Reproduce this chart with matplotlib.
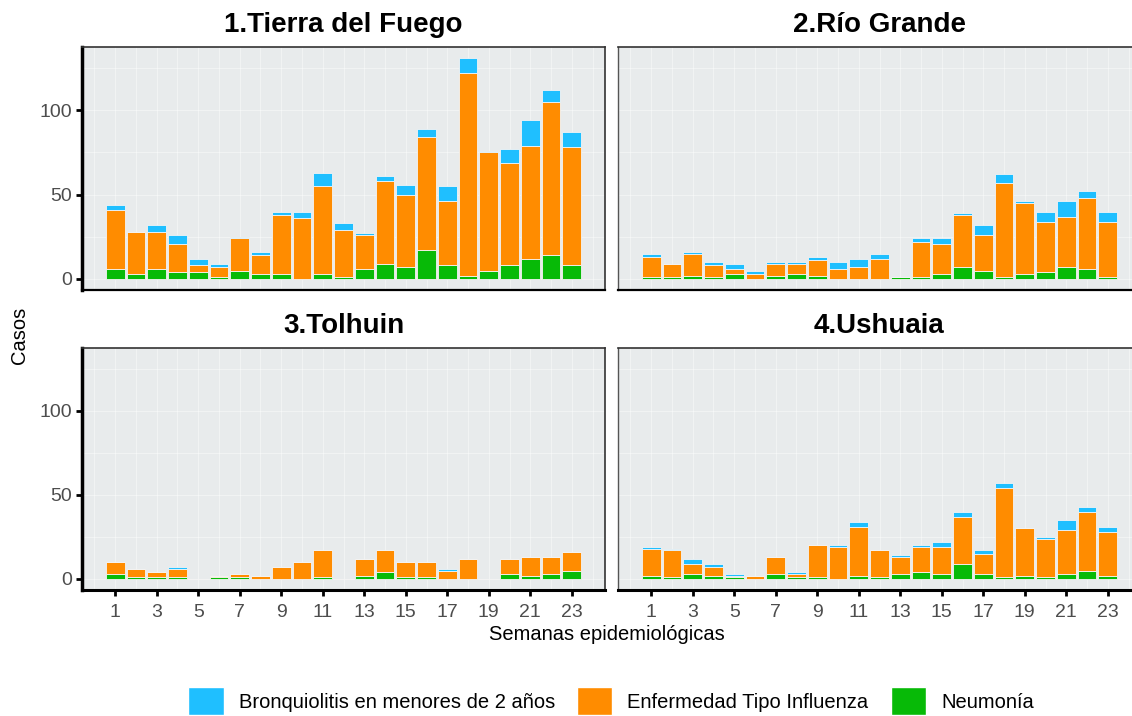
import matplotlib
matplotlib.use("Agg")
import matplotlib.pyplot as plt
from matplotlib.patches import Patch
import numpy as np

plt.rcParams['font.family'] = ['Liberation Sans', 'DejaVu Sans']

# Semanas epidemiológicas 1 a 23
semanas = list(range(1, 24))

titulos = ["1.Tierra del Fuego", "2.Río Grande", "3.Tolhuin", "4.Ushuaia"]

# Neumonía / Enfermedad Tipo Influenza / Bronquiolitis, por semana
neumonia_tdf = [6, 3, 6, 4, 4, 1, 5, 3, 3, 0, 3, 1, 6, 9, 7, 17, 8, 2, 5, 8, 12, 14, 8]
eti_tdf = [35, 25, 22, 17, 4, 6, 19, 11, 35, 36, 52, 28, 20, 49, 43, 67, 38, 120, 70, 61, 67, 91, 70]
bronq_tdf = [3, 0, 4, 5, 4, 2, 1, 2, 2, 4, 8, 4, 1, 3, 6, 5, 9, 9, 1, 8, 15, 7, 9]

neumonia_rg = [1, 1, 2, 1, 3, 0, 2, 3, 2, 0, 0, 0, 1, 1, 3, 7, 5, 1, 3, 4, 7, 6, 1]
eti_rg = [12, 8, 13, 7, 3, 3, 7, 6, 9, 6, 7, 12, 0, 21, 18, 31, 21, 56, 42, 30, 30, 42, 33]
bronq_rg = [2, 0, 1, 2, 3, 2, 1, 1, 2, 4, 5, 3, 0, 2, 3, 1, 6, 5, 1, 6, 9, 4, 6]

neumonia_tol = [3, 1, 1, 1, 0, 1, 1, 0, 0, 0, 1, 0, 2, 4, 1, 1, 0, 0, 0, 3, 2, 3, 5]
eti_tol = [7, 5, 3, 5, 0, 1, 2, 2, 7, 10, 16, 0, 10, 13, 9, 9, 5, 12, 0, 9, 11, 10, 11]
bronq_tol = [0, 0, 0, 1, 0, 0, 0, 0, 0, 0, 0, 0, 0, 0, 0, 0, 1, 0, 0, 0, 0, 0, 0]

neumonia_ush = [2, 1, 3, 2, 1, 0, 3, 1, 1, 0, 2, 1, 3, 4, 3, 9, 3, 1, 2, 1, 3, 5, 2]
eti_ush = [16, 16, 6, 5, 1, 2, 10, 2, 19, 19, 29, 16, 10, 15, 16, 28, 12, 53, 28, 23, 26, 35, 26]
bronq_ush = [1, 1, 3, 2, 1, 0, 0, 1, 0, 1, 3, 0, 1, 1, 3, 3, 2, 3, 0, 1, 6, 3, 3]

datos = [
    (neumonia_tdf, eti_tdf, bronq_tdf),
    (neumonia_rg, eti_rg, bronq_rg),
    (neumonia_tol, eti_tol, bronq_tol),
    (neumonia_ush, eti_ush, bronq_ush),
]

c_bronq = "#1FBFFF"
c_eti = "#FF8C00"
c_neum = "#07BA07"
fondo = "#E8EBEC"

W, H = 1132, 716
fig = plt.figure(figsize=(W / 100, H / 100), dpi=100)


def rect(l, t, r, b):
    return [l / W, 1 - b / H, (r - l) / W, (b - t) / H]


paneles = [(82, 47, 605, 290), (618, 47, 1141, 290),
           (82, 347.5, 605, 590), (618, 347.5, 1141, 590)]
titulo_y = [25, 25, 326, 326]

x = np.array(semanas)
for i, (pos, tit, (neu, eti, bro)) in enumerate(zip(paneles, titulos, datos)):
    ax = fig.add_axes(rect(*pos))
    ax.set_facecolor(fondo)
    neu = np.array(neu)
    eti = np.array(eti)
    bro = np.array(bro)
    kw = dict(width=0.9, edgecolor="#F4F4F4", linewidth=0.6, zorder=3)
    ax.bar(x, neu, color=c_neum, **kw)
    ax.bar(x, eti, bottom=neu, color=c_eti, **kw)
    ax.bar(x, bro, bottom=neu + eti, color=c_bronq, **kw)

    ax.set_xlim(-0.6, 24.6)
    ax.set_ylim(-6.55, 137.55)
    for v in range(0, 25):
        ax.axvline(v, color="white", lw=0.6, alpha=0.5, zorder=1)
    for v in range(0, 150, 25):
        ax.axhline(v, color="white", lw=0.6, alpha=0.5, zorder=1)

    izquierda = i in (0, 2)
    abajo = i in (2, 3)
    for s in ("top", "right"):
        ax.spines[s].set_color("#333333")
        ax.spines[s].set_linewidth(1.2)
    ax.spines["bottom"].set_color("black")
    ax.spines["bottom"].set_linewidth(2.2 if abajo else 1.6)
    if izquierda:
        ax.spines["left"].set_color("black")
        ax.spines["left"].set_linewidth(2.5)
    else:
        ax.spines["left"].set_color("#555555")
        ax.spines["left"].set_linewidth(1.0)

    ax.set_xticks(semanas[::2])
    ax.set_yticks([0, 50, 100])
    ax.tick_params(axis="x", length=4 if abajo else 0, width=2, color="black",
                   labelsize=14, labelcolor="#4D4D4D", pad=6,
                   labelbottom=abajo)
    ax.tick_params(axis="y", length=4 if izquierda else 0, width=2,
                   color="black", labelsize=14, labelcolor="#4D4D4D", pad=3,
                   labelleft=izquierda)

    cx = (pos[0] + pos[2]) / 2
    fig.text(cx / W, 1 - titulo_y[i] / H, tit, ha="center", va="center",
             fontsize=20, fontweight="bold")

fig.text(20 / W, 1 - 335 / H, "Casos", rotation=90, ha="center",
         va="center", fontsize=14.5)
fig.text(607 / W, 1 - 634 / H, "Semanas epidemiológicas", ha="center",
         va="center", fontsize=14.5)

handles = [Patch(facecolor=c_bronq, edgecolor="white"),
           Patch(facecolor=c_eti, edgecolor="white"),
           Patch(facecolor=c_neum, edgecolor="white")]
labels = ["Bronquiolitis en menores de 2 años", "Enfermedad Tipo Influenza",
          "Neumonía"]
fig.legend(handles, labels, loc="center", bbox_to_anchor=(611 / W, 1 - 701 / H),
           ncol=3, frameon=False, fontsize=14.5, handlelength=1.75,
           handleheight=1.7, handletextpad=0.75, columnspacing=1.1,
           borderpad=0)

fig.savefig("out.png", dpi=100)
